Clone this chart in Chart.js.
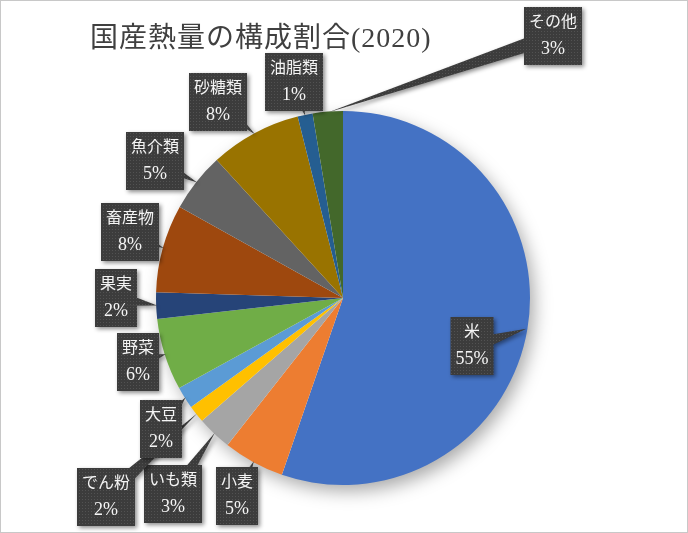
<!DOCTYPE html>
<html lang="ja">
<head>
    <meta charset="UTF-8">
    <title>国産熱量の構成割合(2020)</title>
    <script src="https://cdn.jsdelivr.net/npm/chart.js"></script>
    <style>
        html, body { margin: 0; padding: 0; background: #fff; }
        #wrap { width: 688px; height: 533px; position: relative; }
    </style>
</head>
<body>
    <div id="wrap"><canvas id="pieChart" width="688" height="533"></canvas></div>

    <script>
        // データ（％）
        const categories = ['米', '小麦', 'いも類', 'でん粉', '大豆', '野菜', '果実', '畜産物', '魚介類', '砂糖類', '油脂類', 'その他'];
        const shares = [55.3, 5.3, 3.0, 1.5, 1.9, 6.2, 2.3, 7.6, 5.1, 7.9, 1.3, 2.6];
        const colors = ['#4472C4', '#ED7D31', '#A5A5A5', '#FFC000', '#5B9BD5', '#70AD47',
                        '#264478', '#9E480E', '#636363', '#997300', '#255E91', '#43682B'];
        const chartTitle = '国産熱量の構成割合(2020)';

        // 吹き出しの中心位置（レイアウト）
        const calloutCenters = [
            [472, 346], [237, 496], [173, 494], [106, 497], [161, 429], [138, 362],
            [116, 298], [130, 232], [155, 161], [218, 102], [294, 82], [553, 36]
        ];

        const nameFont = '16px "Liberation Serif", "Noto Sans CJK JP", serif';
        const pctFont = '18px "Liberation Serif", "Noto Sans CJK JP", serif';

        // 点模様の塗り
        function makePattern(ctx) {
            const c = document.createElement('canvas');
            c.width = 3; c.height = 3;
            const p = c.getContext('2d');
            p.fillStyle = '#3c3c3c';
            p.fillRect(0, 0, 3, 3);
            p.fillStyle = '#525252';
            p.fillRect(1, 1, 1, 1);
            return ctx.createPattern(c, 'repeat');
        }

        const shadowPlugin = {
            id: 'pieShadow',
            beforeDatasetsDraw(chart) {
                const arc = chart.getDatasetMeta(0).data[0];
                if (!arc) return;
                const ctx = chart.ctx;
                ctx.save();
                ctx.shadowColor = 'rgba(0,0,0,0.35)';
                ctx.shadowBlur = 18;
                ctx.shadowOffsetX = 5;
                ctx.shadowOffsetY = 7;
                ctx.fillStyle = '#fff';
                ctx.beginPath();
                ctx.arc(arc.x, arc.y, arc.outerRadius - 1, 0, Math.PI * 2);
                ctx.fill();
                ctx.restore();
            }
        };

        const calloutPlugin = {
            id: 'callouts',
            afterDatasetsDraw(chart) {
                const ctx = chart.ctx;
                const meta = chart.getDatasetMeta(0);
                const total = shares.reduce((a, b) => a + b, 0);
                const pattern = makePattern(ctx);
                ctx.save();
                meta.data.forEach((arc, i) => {
                    const mid = (arc.startAngle + arc.endAngle) / 2;
                    const tx = arc.x + Math.cos(mid) * (arc.outerRadius - 1);
                    const ty = arc.y + Math.sin(mid) * (arc.outerRadius - 1);
                    const [cx, cy] = calloutCenters[i];
                    const line1 = categories[i];
                    const line2 = Math.round(shares[i] / total * 100) + '%';
                    ctx.font = nameFont;
                    const w1 = ctx.measureText(line1).width;
                    ctx.font = pctFont;
                    const w2 = ctx.measureText(line2).width;
                    const w = Math.max(w1, w2) + 10;
                    const h = 58;
                    const bx = cx - w / 2, by = cy - h / 2;

                    // くさび
                    const dx = tx - cx, dy = ty - cy;
                    const len = Math.hypot(dx, dy);
                    const nx = -dy / len * 8, ny = dx / len * 8;
                    let p1 = [cx + nx, cy + ny], p2 = [cx - nx, cy - ny];
                    const area = (p1[0] * ty - tx * p1[1]) + (tx * p2[1] - p2[0] * ty) + (p2[0] * p1[1] - p1[0] * p2[1]);
                    if (area < 0) { const t = p1; p1 = p2; p2 = t; }

                    ctx.save();
                    ctx.shadowColor = 'rgba(0,0,0,0.45)';
                    ctx.shadowBlur = 4;
                    ctx.shadowOffsetX = 2;
                    ctx.shadowOffsetY = 2;
                    ctx.fillStyle = pattern;
                    ctx.beginPath();
                    ctx.rect(bx, by, w, h);
                    ctx.moveTo(p1[0], p1[1]);
                    ctx.lineTo(tx, ty);
                    ctx.lineTo(p2[0], p2[1]);
                    ctx.closePath();
                    ctx.fill('nonzero');
                    ctx.restore();

                    ctx.fillStyle = '#f4f4f4';
                    ctx.textAlign = 'center';
                    ctx.textBaseline = 'middle';
                    ctx.font = nameFont;
                    ctx.fillText(line1, cx, cy - 13);
                    ctx.font = pctFont;
                    ctx.fillText(line2, cx, cy + 13);
                });
                ctx.restore();
            },
            afterDraw(chart) {
                const ctx = chart.ctx;
                ctx.save();
                // タイトル
                ctx.fillStyle = '#404040';
                ctx.font = '28px "Liberation Serif", "Noto Sans CJK JP", serif';
                ctx.textAlign = 'left';
                ctx.textBaseline = 'middle';
                ctx.letterSpacing = '1px';
                ctx.fillText(chartTitle, 90, 40);
                // 枠線
                ctx.letterSpacing = '0px';
                ctx.strokeStyle = '#c8c8c8';
                ctx.lineWidth = 1;
                ctx.strokeRect(0.5, 0.5, chart.width - 1, chart.height - 1);
                ctx.restore();
            }
        };

        new Chart(document.getElementById('pieChart'), {
            type: 'pie',
            data: {
                labels: categories,
                datasets: [{
                    data: shares,
                    backgroundColor: colors,
                    borderWidth: 0
                }]
            },
            options: {
                responsive: false,
                animation: false,
                layout: {
                    padding: { left: 156, right: 158, top: 111, bottom: 48 }
                },
                plugins: {
                    legend: { display: false },
                    tooltip: { enabled: false },
                    title: { display: false }
                }
            },
            plugins: [shadowPlugin, calloutPlugin]
        });
    </script>
</body>
</html>
